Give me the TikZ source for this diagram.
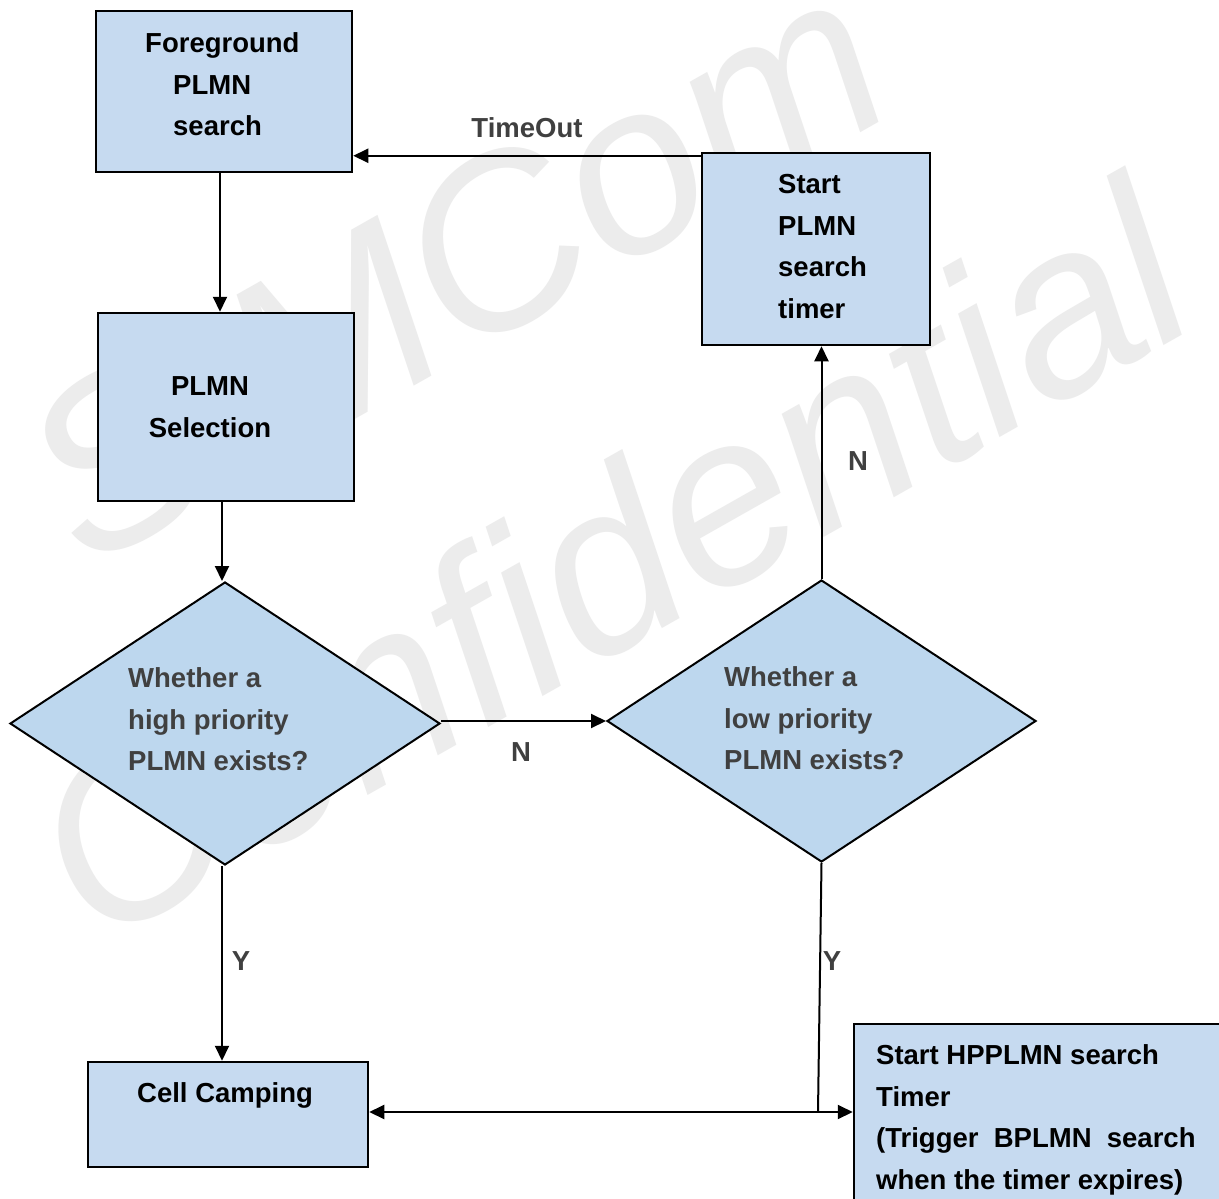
\documentclass[tikz,border=0pt]{standalone}
\usepackage{fontspec}
\setmainfont{Liberation Sans}
\usetikzlibrary{shapes.geometric,arrows.meta}
\definecolor{boxfill}{HTML}{C6DAF0}
\definecolor{diafill}{HTML}{BDD7EE}
\definecolor{lbl}{HTML}{404040}
\definecolor{wm}{HTML}{ECECEC}
\begin{document}
\begin{tikzpicture}[x=1pt,y=-1pt,
  font=\fontsize{27.5}{41.5}\selectfont\bfseries,
  box/.style={draw=black, line width=2.5pt, fill=boxfill, inner sep=0pt},
  dia/.style={diamond, draw=black, line width=2pt, fill=diafill, inner sep=0pt, aspect=1.5},
  txt/.style={anchor=north west, inner sep=0pt, align=left},
  lab/.style={inner sep=0pt, text=lbl},
  arr/.style={line width=2pt, -{Triangle[length=15pt,width=14pt]}},
  conn/.style={line width=2pt},
  wmark/.style={anchor=base west, inner sep=0pt, text=wm, rotate=29.5, font=\fontsize{242}{242}\selectfont\mdseries\itshape}
]
\useasboundingbox (0,0) rectangle (1219,1199);
\fill[white] (0,0) rectangle (1219,1199);
% watermark
\node[wmark] (wm1) at (85,572) {SIMCom};
\node[wmark] (wm2) at (95,950) {Confidential};
% boxes
\node[box, minimum width=256pt, minimum height=161pt] (fg) at (224,91.5) {};
\node[box, minimum width=228pt, minimum height=192pt] (st) at (816,249) {};
\node[box, minimum width=256pt, minimum height=188pt] (sel) at (226,407) {};
\node[box, minimum width=280pt, minimum height=105pt] (cc) at (228,1114.5) {};
\node[box, minimum width=372pt, minimum height=182pt] (hp) at (1040,1115) {};
\node[dia, minimum width=430pt, minimum height=283pt] (d1) at (225,723.5) {};
\node[dia, minimum width=429pt, minimum height=282pt] (d2) at (821.5,721) {};
% texts
\node[txt] (fgt) at (145,32.5) {Foreground\\\hspace*{28pt}PLMN\\\hspace*{28pt}search};
\node[txt] (stt) at (778,174.5) {Start\\PLMN\\search\\timer};
\node[txt, align=center, anchor=north] (selt) at (210,376.5) {PLMN\\Selection};
\node[txt, text=lbl] (d1t) at (128,667.5) {Whether a\\high priority\\PLMN exists?};
\node[txt, text=lbl] (d2t) at (724,666.5) {Whether a\\low priority\\PLMN exists?};
\node[txt] (cct) at (137,1082.5) {Cell Camping};
\node[txt] (hpt) at (876,1044.5) {Start HPPLMN search\\Timer\\(Trigger\ \ BPLMN\ \ search\\when the timer expires)};
% labels
\node[lab, anchor=base] (to) at (527,137) {TimeOut};
\node[lab] (n1) at (521,752) {N};
\node[lab] (n2) at (858,461) {N};
\node[lab] (y1) at (241,961) {Y};
\node[lab] (y2) at (832,961) {Y};
% connectors
\coordinate (j) at (818,1112);
\draw[arr] ([xshift=-4pt]fg.south) -- ([xshift=-6pt]sel.north);
\draw[arr] ([xshift=-4pt]sel.south) -- ([xshift=-3pt]d1.north);
\draw[arr] (d1.east |- d2.west) -- (d2.west);
\draw[arr] (d2.north) -- (d2.north |- st.south);
\draw[arr] ([yshift=-4pt]st.north west) -- ([yshift=-4pt]st.north west -| fg.east);
\draw[arr] ([xshift=-3pt]d1.south) -- ([xshift=-6pt]cc.north);
\draw[conn] (d2.south) -- (j);
\draw[line width=2pt, {Triangle[length=15pt,width=14pt]}-{Triangle[length=15pt,width=14pt]}] (cc.east |- j) -- (hp.west |- j);
\end{tikzpicture}
\end{document}
